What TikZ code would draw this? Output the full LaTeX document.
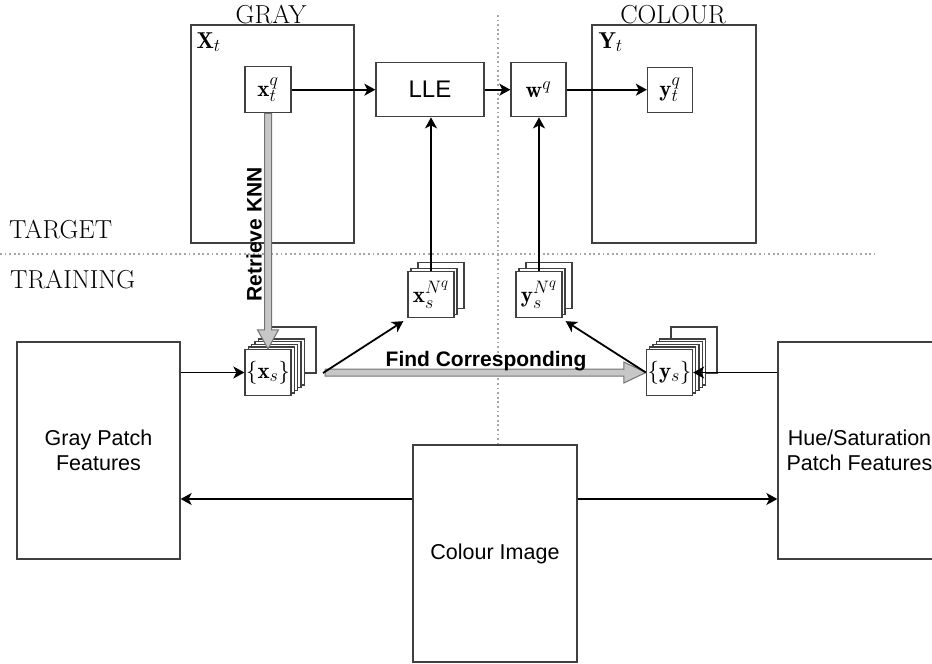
\RequirePackage{fix-cm}
\documentclass[tikz,border=0pt]{standalone}
\usepackage{fontspec}
\setsansfont{Liberation Sans}
\DeclareMathSizes{23}{23}{18}{15}
\usetikzlibrary{arrows.meta,calc}
\begin{document}
\begin{tikzpicture}[x=1pt,y=-1pt,
  box/.style={draw=black!75, line width=1.3pt, fill=white, inner sep=0pt},
  sq/.style={box, minimum width=#1, minimum height=#1},
  lbl/.style={font=\fontsize{21.5}{25}\selectfont\sffamily, align=center},
  mth/.style={font=\fontsize{23}{27}\selectfont},
  hdr/.style={font=\fontsize{26}{30}\selectfont\rmfamily},
  bsf/.style={font=\fontsize{21}{25}\selectfont\sffamily\bfseries},
  arr/.style={-{Stealth[length=11pt,width=12pt,inset=3pt]}, line width=1.8pt, draw=black},
  garrow/.style={fill=black!22, draw=black!55, line width=1pt, line join=miter},
  dotline/.style={draw=black!35, line width=1.8pt, dash pattern=on 1.8pt off 2.8pt}]
\useasboundingbox (0,0) rectangle (932,664);
\clip (0,0) rectangle (932,664);

% separators
\draw[dotline] (498,15) -- (498,445);
\draw[dotline] (0,254) -- (875,254);

% headers
\node[hdr, anchor=base] (hgray) at (271,23) {GRAY};
\node[hdr, anchor=base] (hcol) at (673,23) {COLOUR};
\node[hdr, anchor=base west, inner sep=0pt] (htarget) at (9,238) {TARGET};
\node[hdr, anchor=base west, inner sep=0pt] (htrain) at (10,288) {TRAINING};

% target frames
\node[box, minimum width=163pt, minimum height=218pt] (Xt) at (272.5,134) {};
\node[mth, anchor=north west, inner sep=0pt] (Xtl) at ($(Xt.north west)+(6,8)$) {$\mathbf{X}_t$};
\node[box, minimum width=164pt, minimum height=218pt] (Yt) at (674,134) {};
\node[mth, anchor=north west, inner sep=0pt] (Ytl) at ($(Yt.north west)+(7,8)$) {$\mathbf{Y}_t$};

\node[sq=46pt, mth] (xq) at (268,89.7) {$\mathbf{x}_t^q$};
\node[box, minimum width=108pt, minimum height=54pt, font=\fontsize{24}{28}\selectfont\sffamily] (lle) at (430,89.7) {LLE};
\node[box, mth, minimum width=55pt, minimum height=54pt] (wq) at (538.5,89.7) {$\mathbf{w}^q$};
\node[sq=45pt, mth] (ytq) at (670,89.7) {$\mathbf{y}_t^q$};

% x_s^{N^q} stack
\node[sq=46pt] (xsnb) at (441,285.5) {};
\node[sq=46pt] (xsnm) at (434,291.5) {};
\node[sq=46pt, mth] (xsn) at (431,294.5) {$\mathbf{x}_s^{N^q}$};
% y_s^{N^q} stack
\node[sq=46pt] (ysnb) at (549,285.5) {};
\node[sq=46pt] (ysnm) at (542,291.5) {};
\node[sq=46pt, mth] (ysn) at (539,294.5) {$\mathbf{y}_s^{N^q}$};

% {x_s} stack
\node[sq=46pt] (xsb) at (293,350) {};
\foreach \i in {4,3,2,1}
  \node[sq=46pt] at ($(268,372.5)+(3.3*\i,-2.6*\i)$) {};
\node[sq=46pt, mth] (xs) at (268,372.5) {$\{\mathbf{x}_s\}$};

% {y_s} stack
\node[sq=46pt] (ysb) at (694,350) {};
\foreach \i in {4,3,2,1}
  \node[sq=46pt] at ($(669.5,372.5)+(3.3*\i,-2.6*\i)$) {};
\node[sq=46pt, mth] (ys) at (669.5,372.5) {$\{\mathbf{y}_s\}$};

% training boxes
\node[box, lbl, minimum width=163pt, minimum height=217pt] (gray) at (98.5,450.5) {Gray Patch\\Features};
\node[box, lbl, minimum width=163pt, minimum height=217pt] (hue) at (859.5,450.5) {Hue/Saturation\\Patch Features};
\node[box, lbl, minimum width=164pt, minimum height=217pt] (col) at (495,553.5) {Colour Image};

% grey fat arrows
\draw[garrow] ($(xq.south)+(-3.5,0)$) -- ($(xs.north)+(-3.5,-19)$) -- ($(xs.north)+(-10.5,-19)$)
  -- (xs.north) -- ($(xs.north)+(10.5,-19)$) -- ($(xs.north)+(3.5,-19)$) -- ($(xq.south)+(3.5,0)$) -- cycle;
\node[bsf, rotate=90] (knn) at (254,234.5) {Retrieve KNN};

\coordinate (fcs) at (325,372.5);
\draw[garrow] ($(fcs)+(0,-3.5)$) -- ($(ys.west)+(-22,-3.5)$) -- ($(ys.west)+(-22,-10.5)$)
  -- (ys.west) -- ($(ys.west)+(-22,10.5)$) -- ($(ys.west)+(-22,3.5)$) -- ($(fcs)+(0,3.5)$) -- cycle;
\node[bsf, anchor=base] (fc) at (486,366) {Find Corresponding};

% black connectors
\draw[arr] (xq.east) -- (lle.west);
\draw[arr] (lle.east) -- (wq.west);
\draw[arr] (wq.east) -- (ytq.west);
\draw[arr] (xsn.north) -- (xsn.north |- lle.south);
\draw[arr] (ysn.north) -- (ysn.north |- wq.south);
\coordinate (xsout) at (323,373);
\draw[arr] (xsout) -- ($(xsn.south west)+(-4,3)$);
\draw[arr] (ys.west) -- ($(ysn.south east)+(3,3)$);
\draw[arr] (gray.east |- xs.west) -- (xs.west);
\draw[arr] (hue.west |- ys.east) -- (ys.east);
\coordinate (cl) at ($(col.west)+(0,-54.5)$);
\coordinate (cr) at ($(col.east)+(0,-54.5)$);
\draw[arr] (cl) -- (gray.east |- cl);
\draw[arr] (cr) -- (hue.west |- cr);
\end{tikzpicture}
\end{document}
